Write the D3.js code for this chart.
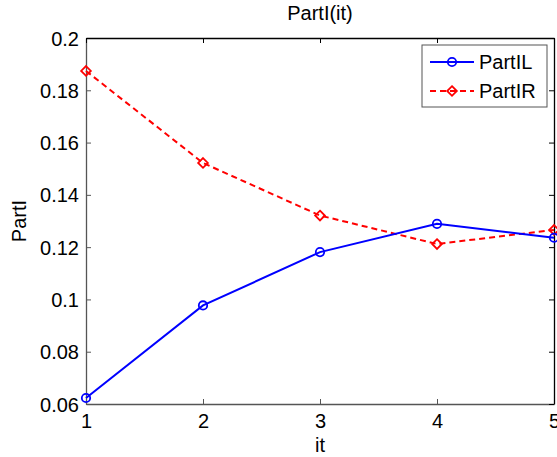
<!DOCTYPE html>
<html>
<head>
<meta charset="utf-8">
<script src="https://cdn.jsdelivr.net/npm/d3@7"></script>
<style>
  body { margin: 0; background: #fff; }
  text { font-family: "Liberation Sans", Arial, sans-serif; fill: #000; }
</style>
</head>
<body>
<div id="vis"></div>
<script>
// data
const IT = [1, 2, 3, 4, 5];
const PART_IL = [0.0623, 0.0977, 0.1181, 0.1289, 0.1236];
const PART_IR = [0.1874, 0.1522, 0.1321, 0.1212, 0.1266];
const X_TICKS = [1, 2, 3, 4, 5];
const Y_TICKS = [0.06, 0.08, 0.1, 0.12, 0.14, 0.16, 0.18, 0.2];

const FRAME_WIDTH = 557;
const FRAME_HEIGHT = 457;
const MARGINS = {left: 86, right: 3, top: 38, bottom: 53};
const VIS_WIDTH = FRAME_WIDTH - MARGINS.left - MARGINS.right;
const VIS_HEIGHT = FRAME_HEIGHT - MARGINS.top - MARGINS.bottom;

const FRAME = d3.select("#vis")
  .append("svg")
    .attr("width", FRAME_WIDTH)
    .attr("height", FRAME_HEIGHT);

const X_SCALE = d3.scaleLinear().domain([1, 5]).range([0, VIS_WIDTH]);
const Y_SCALE = d3.scaleLinear().domain([0.06, 0.2]).range([VIS_HEIGHT, 0]);

const G = FRAME.append("g")
  .attr("transform", "translate(" + MARGINS.left + "," + MARGINS.top + ")");

// white plot background
G.append("rect")
  .attr("width", VIS_WIDTH).attr("height", VIS_HEIGHT)
  .attr("fill", "#fff");

// axes (ticks pointing inward, like matlab)
function styleAxis(g, color) {
  g.select(".domain").attr("stroke", color).attr("stroke-width", 1.3);
  g.selectAll(".tick line").attr("stroke", color);
  g.selectAll(".tick text").attr("font-size", "20px")
    .attr("font-family", "'Liberation Sans', Arial, sans-serif").attr("fill", "#000");
}

G.append("g")
  .attr("transform", "translate(0," + VIS_HEIGHT + ")")
  .call(d3.axisBottom(X_SCALE).tickValues(X_TICKS).tickFormat(d3.format("d"))
    .tickSizeInner(-5).tickSizeOuter(0).tickPadding(10))
  .call(g => styleAxis(g, "#555"))
  .call(g => g.selectAll(".tick text").attr("dy", "0.71em"));

G.append("g")
  .call(d3.axisLeft(Y_SCALE).tickValues(Y_TICKS).tickFormat(d => d3.format("")(+d.toFixed(2)))
    .tickSizeInner(-5).tickSizeOuter(0).tickPadding(7))
  .call(g => styleAxis(g, "#555"))
  .call(g => g.selectAll(".tick text").attr("dy", "0.35em"));

G.append("g")
  .call(d3.axisTop(X_SCALE).tickValues(X_TICKS).tickFormat("")
    .tickSizeInner(-5).tickSizeOuter(0))
  .call(g => styleAxis(g, "#000"));

G.append("g")
  .attr("transform", "translate(" + VIS_WIDTH + ",0)")
  .call(d3.axisRight(Y_SCALE).tickValues(Y_TICKS).tickFormat("")
    .tickSizeInner(-5).tickSizeOuter(0))
  .call(g => styleAxis(g, "#000"));

// lines
const LINE = d3.line()
  .x((d, i) => X_SCALE(IT[i]))
  .y(d => Y_SCALE(d));

G.append("path")
  .datum(PART_IR)
  .attr("d", LINE)
  .attr("fill", "none")
  .attr("stroke", "#ff0000")
  .attr("stroke-width", 2)
  .attr("stroke-dasharray", "6,4");

G.append("path")
  .datum(PART_IL)
  .attr("d", LINE)
  .attr("fill", "none")
  .attr("stroke", "#0000ff")
  .attr("stroke-width", 2);

// markers
const DIAMOND = d3.symbol().type(d3.symbolDiamond2).size(60);

G.selectAll(".markR")
  .data(PART_IR)
  .enter()
  .append("path")
    .attr("class", "markR")
    .attr("d", DIAMOND)
    .attr("transform", (d, i) => "translate(" + X_SCALE(IT[i]) + "," + Y_SCALE(d) + ")")
    .attr("fill", "none")
    .attr("stroke", "#ff0000")
    .attr("stroke-width", 1.8);

G.selectAll(".markL")
  .data(PART_IL)
  .enter()
  .append("circle")
    .attr("class", "markL")
    .attr("cx", (d, i) => X_SCALE(IT[i]))
    .attr("cy", d => Y_SCALE(d))
    .attr("r", 4.2)
    .attr("fill", "none")
    .attr("stroke", "#0000ff")
    .attr("stroke-width", 1.8);

// titles
FRAME.append("text")
  .attr("x", MARGINS.left + VIS_WIDTH / 2)
  .attr("y", 20)
  .attr("text-anchor", "middle")
  .attr("font-size", "20px")
  .text("PartI(it)");

FRAME.append("text")
  .attr("x", MARGINS.left + VIS_WIDTH / 2)
  .attr("y", 452)
  .attr("text-anchor", "middle")
  .attr("font-size", "20px")
  .text("it");

FRAME.append("text")
  .attr("transform", "translate(26," + (MARGINS.top + VIS_HEIGHT / 2) + ") rotate(-90)")
  .attr("text-anchor", "middle")
  .attr("font-size", "20px")
  .text("PartI");

// legend
const LEGEND = FRAME.append("g").attr("transform", "translate(422,45)");
LEGEND.append("rect")
  .attr("width", 125).attr("height", 62)
  .attr("fill", "#fff")
  .attr("stroke", "#555")
  .attr("stroke-width", 1);

const LEG_ITEMS = [
  {name: "PartIL", color: "#0000ff", dash: null, y: 17},
  {name: "PartIR", color: "#ff0000", dash: "6,4", y: 46}
];

LEG_ITEMS.forEach(item => {
  LEGEND.append("line")
    .attr("x1", 8).attr("x2", 52)
    .attr("y1", item.y).attr("y2", item.y)
    .attr("stroke", item.color)
    .attr("stroke-width", 2)
    .attr("stroke-dasharray", item.dash);
  if (item.name == "PartIL") {
    LEGEND.append("circle")
      .attr("cx", 30).attr("cy", item.y).attr("r", 4.2)
      .attr("fill", "none").attr("stroke", item.color).attr("stroke-width", 1.8);
  } else {
    LEGEND.append("path")
      .attr("d", DIAMOND)
      .attr("transform", "translate(30," + item.y + ")")
      .attr("fill", "none").attr("stroke", item.color).attr("stroke-width", 1.8);
  }
  LEGEND.append("text")
    .attr("x", 57).attr("y", item.y)
    .attr("dy", "0.35em")
    .attr("font-size", "20px")
    .text(item.name);
});
</script>
</body>
</html>
